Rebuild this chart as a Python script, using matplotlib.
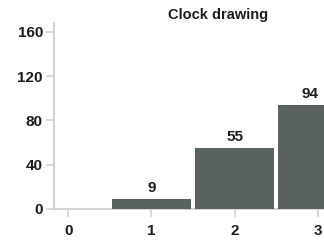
from matplotlib import pyplot as plt

# data
categories = [0, 1, 2, 3]
counts = [0, 9, 55, 94]
y_ticks = [0, 40, 80, 120, 160]
title = "Clock drawing"

bar_color = "#5a625d"
axis_color = "#d3d3d3"
text_color = "#1c1c1c"

plt.rcParams['font.family'] = ['Liberation Sans', 'DejaVu Sans']
plt.rcParams['font.weight'] = 'bold'

fig = plt.figure(figsize=(3.24, 2.41), dpi=100)
# axes run past the right edge, as in the cropped original
ax = fig.add_axes([54 / 324, 32 / 241, 329 / 324, 186 / 241])

bars = ax.bar(categories[1:], counts[1:], width=0.95, color=bar_color, zorder=3)
labels = ax.bar_label(bars, labels=[str(c) for c in counts[1:]], padding=3,
                      fontsize=11, fontweight='bold', color=text_color)
# last label sits left of its bar centre so it stays inside the crop
labels[-1].set_ha('right')

ax.set_xlim(-0.17, 3.78)
ax.set_ylim(0, 168)
ax.set_xticks(categories)
ax.set_yticks(y_ticks)

for side in ['top', 'right']:
    ax.spines[side].set_visible(False)
for side in ['left', 'bottom']:
    ax.spines[side].set_color(axis_color)
    ax.spines[side].set_linewidth(1.5)

ax.tick_params(axis='both', colors=axis_color, width=1.2, length=6,
               labelcolor=text_color, labelsize=11)
ax.tick_params(axis='x', pad=5)
ax.tick_params(axis='y', pad=2)
for lab in ax.get_xticklabels() + ax.get_yticklabels():
    lab.set_fontweight('bold')

ax.set_title(title, fontsize=10.5, fontweight='bold', color=text_color, pad=3)

fig.savefig("out.png", dpi=100)
plt.close(fig)
